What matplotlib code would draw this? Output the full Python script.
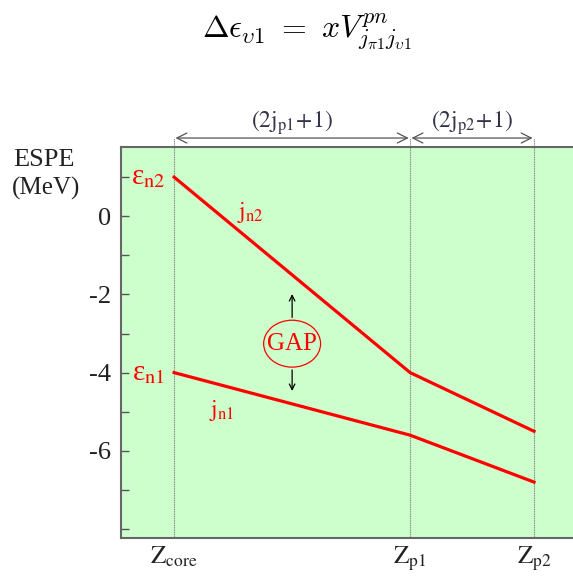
import matplotlib
matplotlib.use("Agg")
import matplotlib.pyplot as plt
from matplotlib.patches import Ellipse

# ----------------------------
# Data
# ----------------------------
z_labels = [r"$\mathrm{Z}_{\mathrm{core}}$", r"$\mathrm{Z}_{\mathrm{p1}}$", r"$\mathrm{Z}_{\mathrm{p2}}$"]
z_positions = [0.0, 8.0, 12.2]

espe_n2 = [1.0, -4.0, -5.5]
espe_n1 = [-4.0, -5.6, -6.8]

y_ticks = [1, 0, -1, -2, -3, -4, -5, -6, -7, -8]
y_tick_labels = ["", "0", "", "-2", "", "-4", "", "-6", "", ""]

span_labels = [r"$(2\mathrm{j}_{\mathrm{p1}}\!+\!1)$", r"$(2\mathrm{j}_{\mathrm{p2}}\!+\!1)$"]

RED = "#ff0000"
INK = "#33334a"

plt.rcParams["mathtext.fontset"] = "stix"
plt.rcParams["font.family"] = ["Liberation Serif", "DejaVu Serif"]

fig = plt.figure(figsize=(5.73, 5.77), dpi=100)
# the frame runs past the right edge of the figure
ax = fig.add_axes([0.2112, 0.0676, 1.0, 0.6776])
ax.set_facecolor("#ccffcc")
ax.set_xlim(-1.8, -1.8 + 573 / 29.5)
ax.set_ylim(-8.23, 1.77)

for side in ("left", "bottom", "top"):
    ax.spines[side].set_color("#666666")
    ax.spines[side].set_linewidth(1.5)
ax.spines["right"].set_visible(False)

ax.set_yticks(y_ticks)
ax.set_yticklabels(y_tick_labels, fontsize=19, color="#222222")
ax.tick_params(axis="y", direction="in", length=6, width=1, color="#555555", pad=7)

ax.set_xticks(z_positions)
ax.set_xticklabels(z_labels, fontsize=18, color="#222222")
ax.tick_params(axis="x", length=0, pad=5)

# vertical guides, reaching up to the span arrows
for zx in z_positions:
    ax.plot([zx, zx], [-8.23, 2.0], color="#888888", lw=0.8, ls=(0, (1, 0.6)),
            clip_on=False, zorder=1)

# ESPE lines
ax.plot(z_positions, espe_n2, color=RED, lw=2.3, zorder=3)
ax.plot(z_positions, espe_n1, color=RED, lw=2.3, zorder=3)

# level labels
ax.text(z_positions[0] - 0.3, espe_n2[0], r"ε$_{\mathrm{n2}}$", color=RED,
        fontsize=21, ha="right", va="center")
ax.text(z_positions[0] - 0.3, espe_n1[0], r"ε$_{\mathrm{n1}}$", color=RED,
        fontsize=21, ha="right", va="center")
ax.text(2.6, 0.1, r"$\mathrm{j}_{\mathrm{n2}}$", color=RED, fontsize=17, ha="center", va="center")
ax.text(1.6, -4.97, r"$\mathrm{j}_{\mathrm{n1}}$", color=RED, fontsize=17, ha="center", va="center")

# gap marker
gap_x, gap_y = 4.0, -3.26
ax.add_patch(Ellipse((gap_x, gap_y), 1.93, 1.2, fill=False, edgecolor=RED, lw=0.9, zorder=4))
ax.text(gap_x, gap_y, "GAP", color=RED, fontsize=18, ha="center", va="center")
ax.annotate("", xy=(gap_x, -1.92), xytext=(gap_x, gap_y + 0.6),
            arrowprops=dict(arrowstyle="->", color="black", lw=0.9))
ax.annotate("", xy=(gap_x, -4.54), xytext=(gap_x, gap_y - 0.6),
            arrowprops=dict(arrowstyle="->", color="black", lw=0.9))

# shell-filling spans above the plot
for i, label in enumerate(span_labels):
    x0, x1 = z_positions[i], z_positions[i + 1]
    ax.annotate("", xy=(x1, 2.0), xytext=(x0, 2.0), annotation_clip=False,
                arrowprops=dict(arrowstyle="<->", color="#555555", lw=0.9,
                                shrinkA=1, shrinkB=1, mutation_scale=18))
    ax.text((x0 + x1) / 2, 2.4, label, color=INK, fontsize=17, ha="center",
            va="center", clip_on=False)

# axis caption
fig.text(13 / 573, 1 - 160 / 577, "ESPE", fontsize=19, color="#222222", va="center")
fig.text(12 / 573, 1 - 188 / 577, "(MeV)", fontsize=18, color="#222222", va="center")

# formula on top
fig.text(307 / 573, 1 - 32 / 577,
         r"$\Delta\epsilon_{\upsilon1}\ =\ xV^{pn}_{j_{\pi1}j_{\upsilon1}}$",
         fontsize=23, color="black", ha="center", va="center", math_fontfamily="cm")

fig.savefig("out.png", dpi=100)
